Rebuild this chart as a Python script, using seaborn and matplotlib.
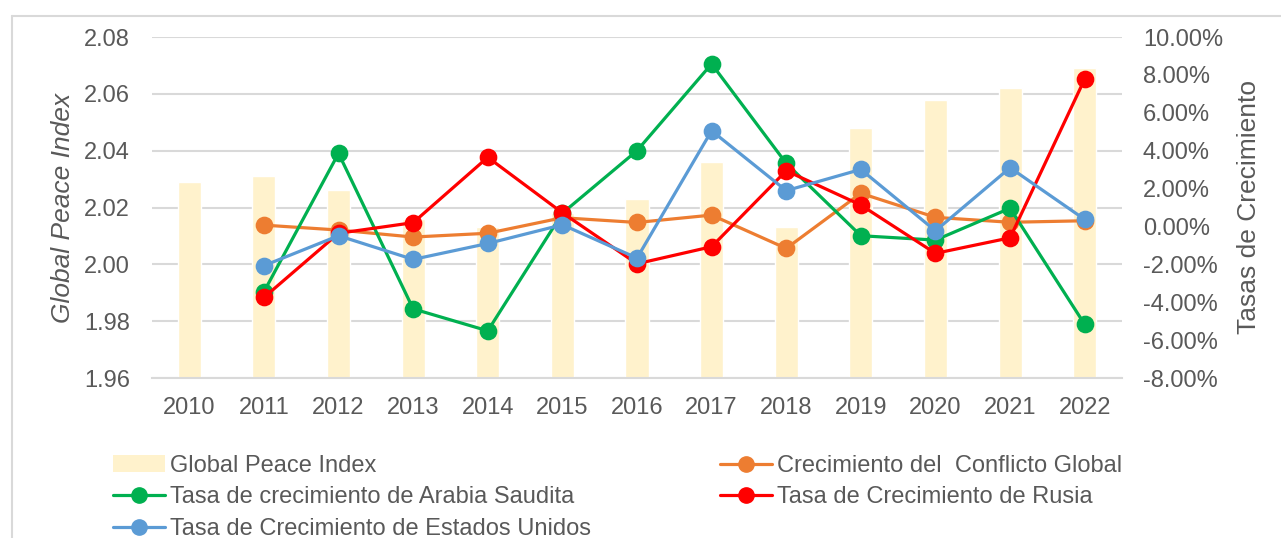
import numpy as np
import pandas as pd
import matplotlib
matplotlib.use("Agg")
import matplotlib.pyplot as plt
import seaborn as sns
from matplotlib.ticker import PercentFormatter, FormatStrFormatter
from matplotlib.lines import Line2D
from matplotlib.patches import Patch

# ---------------- data ----------------
years = ["2010", "2011", "2012", "2013", "2014", "2015", "2016",
         "2017", "2018", "2019", "2020", "2021", "2022"]
gpi = [2.029, 2.031, 2.026, 2.016, 2.013, 2.018, 2.023,
       2.036, 2.013, 2.048, 2.058, 2.062, 2.069]
conflicto = [np.nan, 0.0007, -0.0019, -0.0056, -0.0036, 0.0046, 0.0021,
             0.0060, -0.0116, 0.0175, 0.0048, 0.0022, 0.0030]
arabia = [np.nan, -0.0345, 0.0386, -0.0435, -0.0551, 0.0070, 0.0400,
          0.0858, 0.0333, -0.0049, -0.0072, 0.0096, -0.0517]
rusia = [np.nan, -0.0375, -0.0036, 0.0020, 0.0365, 0.0072, -0.0197,
         -0.0107, 0.0294, 0.0113, -0.0142, -0.0060, 0.0778]
eeuu = [np.nan, -0.0207, -0.0049, -0.0174, -0.0090, 0.0009, -0.0167,
        0.0505, 0.0189, 0.0301, -0.0023, 0.0310, 0.0037]

name_gpi = "Global Peace Index"
name_conf = "Crecimiento del  Conflicto Global"
name_ar = "Tasa de crecimiento de Arabia Saudita"
name_ru = "Tasa de Crecimiento de Rusia"
name_us = "Tasa de Crecimiento de Estados Unidos"

series_names = [name_conf, name_ar, name_ru, name_us]
series_vals = [conflicto, arabia, rusia, eeuu]
series_colors = ["#ED7D31", "#00B050", "#FF0000", "#5B9BD5"]
bar_color = "#FFF2CC"
text_color = "#595959"
grid_color = "#D9D9D9"

df_bar = pd.DataFrame({"year": years, "gpi": gpi})
df_lines = pd.concat(
    [pd.DataFrame({"year": years, "value": v, "series": n})
     for n, v in zip(series_names, series_vals)],
    ignore_index=True).dropna()

# ---------------- style ----------------
sns.set_theme(style="white")
plt.rcParams["font.family"] = ["Liberation Sans", "DejaVu Sans"]
plt.rcParams["axes.unicode_minus"] = False
FS = 17
FS_T = 19

fig = plt.figure(figsize=(12.81, 5.38), dpi=100)
ax = fig.add_axes([152 / 1281, 1 - 378 / 538, (1122 - 152) / 1281, (378 - 37) / 538])

# bars
sns.barplot(data=df_bar, x="year", y="gpi", order=years, color=bar_color,
            width=0.31, ax=ax, zorder=2, saturation=1)
ax.set_ylim(1.96, 2.08)
ax.set_yticks(np.arange(1.96, 2.0801, 0.02))
ax.yaxis.set_major_formatter(FormatStrFormatter("%.2f"))
ax.grid(axis="y", color=grid_color, linewidth=1.5, zorder=0)
ax.set_axisbelow(True)
ax.set_xlim(-0.5, len(years) - 0.5)
for s in ax.spines.values():
    s.set_visible(False)
ax.spines["bottom"].set_visible(True)
ax.spines["bottom"].set_color(grid_color)
ax.spines["bottom"].set_linewidth(1.5)
ax.tick_params(axis="both", length=0, labelsize=FS, labelcolor=text_color)
ax.tick_params(axis="x", pad=14)
ax.tick_params(axis="y", pad=16)
ax.set_xlabel("")
ax.set_ylabel("Global Peace Index", fontsize=FS_T, color=text_color,
              fontstyle="italic", labelpad=6)

# lines on secondary axis
ax2 = ax.twinx()
sns.pointplot(data=df_lines, x="year", y="value", hue="series", order=years,
              hue_order=series_names, palette=series_colors, errorbar=None,
              markers="o", markersize=11, linewidth=2.3, ax=ax2, legend=False)
ax2.set_ylim(-0.08, 0.10)
ax2.set_yticks(np.arange(-0.08, 0.1001, 0.02))
ax2.yaxis.set_major_formatter(PercentFormatter(xmax=1, decimals=2))
ax2.set_xlim(-0.5, len(years) - 0.5)
for s in ax2.spines.values():
    s.set_visible(False)
ax2.grid(False)
ax2.tick_params(axis="both", length=0, labelsize=FS, labelcolor=text_color)
ax2.tick_params(axis="y", pad=15)
ax2.set_xlabel("")
ax2.set_ylabel("Tasas de Crecimiento", fontsize=FS_T, color=text_color, labelpad=10)

# legends
leg_kw = dict(frameon=False, fontsize=FS, labelcolor=text_color, handlelength=2.2,
              handletextpad=0.2, borderpad=0, borderaxespad=0, labelspacing=0.4,
              loc="upper left")
h_gpi = Patch(facecolor=bar_color, edgecolor="none")
def lh(c):
    return Line2D([], [], color=c, marker="o", markersize=11, linewidth=2.3)
leg1 = fig.legend([h_gpi, lh(series_colors[1]), lh(series_colors[3])],
                  [name_gpi, name_ar, name_us],
                  bbox_to_anchor=(113 / 1281, 1 - 455 / 538), **leg_kw)
leg2 = fig.legend([lh(series_colors[0]), lh(series_colors[2])],
                  [name_conf, name_ru],
                  bbox_to_anchor=(720 / 1281, 1 - 455 / 538), **leg_kw)

# outer chart frame
fig.add_artist(Line2D([12 / 1281, 12 / 1281], [0, 1 - 16 / 538],
                      transform=fig.transFigure, color=grid_color, linewidth=1.5))
fig.add_artist(Line2D([12 / 1281, 1], [1 - 16 / 538, 1 - 16 / 538],
                      transform=fig.transFigure, color=grid_color, linewidth=1.5))

fig.savefig("out.png", dpi=100)
